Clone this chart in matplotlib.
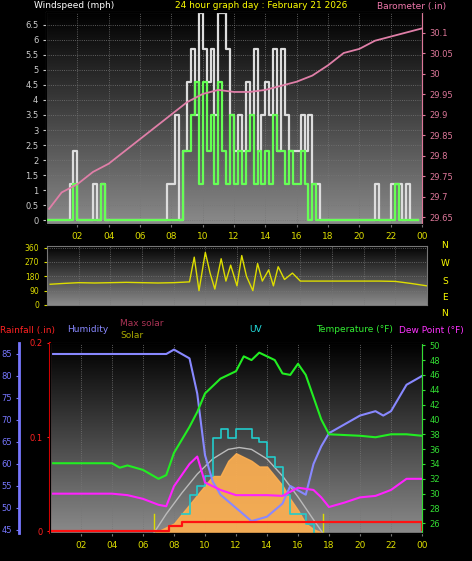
import numpy as np
import matplotlib.pyplot as plt

W, H = 472, 561

# ---------------- data ----------------
q_hours = np.arange(96) / 4.0
gust = [0, 0, 0, 0, 0, 0, 1.2, 2.3, 0, 0, 0, 0, 1.2, 0, 1.2, 0,
        0, 0, 0, 0, 0, 0, 0, 0, 0, 0, 0, 0, 0, 0, 0, 1.2,
        1.2, 3.5, 0, 2.3, 4.6, 5.7, 3.5, 6.9, 5.7, 4.6, 5.7, 3.5, 6.9, 6.9, 5.7, 3.5,
        2.3, 3.5, 2.3, 4.6, 3.5, 5.7, 2.3, 3.5, 4.6, 3.5, 5.7, 2.3, 5.7, 3.5, 2.3, 2.3,
        2.3, 3.5, 2.3, 3.5, 1.2, 1.2, 0, 0, 0, 0, 0, 0, 0, 0, 0, 0,
        0, 0, 0, 0, 1.2, 0, 0, 0, 1.2, 1.2, 1.2, 0, 1.2, 0, 0, 0]
wind = [0, 0, 0, 0, 0, 0, 0, 1.2, 0, 0, 0, 0, 0, 0, 1.2, 0,
        0, 0, 0, 0, 0, 0, 0, 0, 0, 0, 0, 0, 0, 0, 0, 0,
        0, 0, 0, 2.3, 2.3, 3.5, 4.6, 1.2, 4.6, 2.3, 3.5, 1.2, 4.6, 2.3, 1.2, 3.5,
        1.2, 2.3, 1.2, 2.3, 3.5, 1.2, 2.3, 1.2, 2.3, 1.2, 3.5, 2.3, 2.3, 1.2, 2.3, 1.2,
        1.2, 2.3, 1.2, 0, 1.2, 0, 0, 0, 0, 0, 0, 0, 0, 0, 0, 0,
        0, 0, 0, 0, 0, 0, 0, 0, 0, 1.2, 0, 0, 0, 0, 0, 0]

baro_h = [0.2, 1, 2, 3, 4, 5, 6, 7, 8, 9, 10, 11, 12, 13, 14, 15, 16, 17, 18, 19, 20, 21, 22, 23, 24]
baro = [29.67, 29.71, 29.73, 29.76, 29.78, 29.81, 29.84, 29.87, 29.90, 29.93, 29.95, 29.96,
        29.955, 29.955, 29.96, 29.97, 29.98, 29.995, 30.02, 30.05, 30.06, 30.08, 30.09, 30.10, 30.11]

dir_h = [0.2, 1, 2, 3, 4, 5, 6, 7, 8, 9, 9.3, 9.6, 10, 10.3, 10.6, 11, 11.3, 11.6, 12, 12.3,
         12.6, 13, 13.3, 13.6, 14, 14.3, 14.6, 15, 15.5, 16, 17, 18, 19, 20, 21, 22, 23, 24]
wdir = [130, 135, 140, 138, 140, 142, 140, 138, 140, 145, 300, 90, 330, 200, 100, 290, 150, 250,
        120, 310, 180, 90, 260, 150, 220, 120, 240, 160, 200, 150, 150, 150, 150, 150, 150, 148, 135, 120]

hum_h = [0.2, 7.5, 8, 9, 9.5, 10, 10.5, 11, 12, 13, 14, 15, 15.5, 16, 16.5, 17, 17.5, 18, 19, 20, 21, 21.5, 22, 23, 24]
hum = [85, 85, 86, 84, 76, 62, 56, 53, 50, 47, 48, 51, 55, 54, 53, 60, 64, 67, 69, 71, 72, 71, 72, 78, 80]

temp_h = [0.2, 4, 4.5, 5, 6, 7, 7.5, 8, 9, 9.5, 10, 11, 12, 12.5, 13, 13.5, 14, 14.5, 15, 15.5,
          16, 16.5, 17, 17.5, 18, 19, 20, 21, 22, 23, 24]
temp = [34.1, 34.1, 33.5, 33.8, 33.2, 32, 32.5, 35.5, 39, 41, 43.5, 45.5, 46.5, 48.5, 48, 49, 48.5,
        48, 46.2, 46, 47.5, 46, 43, 40, 38, 37.9, 37.8, 37.6, 38, 38, 37.8]
dew_h = [0.2, 4, 5, 6, 7, 7.5, 8, 9, 9.5, 10, 11, 12, 13, 14, 15, 16, 17, 17.5, 18, 19, 20, 21, 22, 23, 24]
dew = [30, 30, 29.8, 29.3, 28.5, 28.3, 31, 34, 35, 31.5, 30.5, 29.8, 29.8, 29.8, 29.7, 30.8, 30.5,
       29.5, 28.2, 28.8, 29.5, 29.7, 30.5, 32, 32]

sol_h = [6.7, 7, 8, 8.5, 9, 9.5, 10, 10.5, 11, 11.5, 12, 12.5, 13, 13.5, 14, 14.5, 15, 15.5, 16, 16.5, 17, 17.6]
solar = [0, 0.01, 0.05, 0.1, 0.15, 0.2, 0.25, 0.3, 0.3, 0.38, 0.42, 0.4, 0.38, 0.35, 0.35, 0.3,
         0.25, 0.18, 0.12, 0.05, 0.02, 0]
maxsol_h = [6.7, 7.5, 8.5, 9.5, 10.5, 11.5, 12.2, 13, 14, 15, 16, 17, 17.6]
maxsol = [0, 0.1, 0.21, 0.31, 0.39, 0.44, 0.45, 0.44, 0.39, 0.30, 0.19, 0.07, 0]
uv_h = [8.5, 9, 9.5, 10, 10.5, 11, 11.5, 12, 12.5, 13, 13.5, 14, 14.5, 15, 15.5, 16, 16.5, 17]
uv = [0.1, 0.2, 0.25, 0.3, 0.5, 0.55, 0.5, 0.55, 0.55, 0.5, 0.48, 0.4, 0.35, 0.2, 0.1, 0.1, 0.05, 0]
rain_h = [0, 7.7, 8.5, 24]
rain = [0, 0.005, 0.01, 0.01]

xticks = list(range(2, 25, 2))
xlabels = ['%02d' % (h % 24) for h in xticks]
FS = 6.5


def rect(x0, y0, x1, y1):
    return [x0 / W, 1 - y1 / H, (x1 - x0) / W, (y1 - y0) / H]


def gradient(ax):
    g = np.linspace(0, 1, 256).reshape(-1, 1)
    ax.imshow(g, extent=[0, 1, 0, 1], transform=ax.transAxes, aspect='auto',
              cmap=plt.matplotlib.colors.LinearSegmentedColormap.from_list('g', ['#000000', '#8a8a8a']),
              origin='upper', zorder=0)


def style(ax):
    ax.set_facecolor('black')
    for s in ax.spines.values():
        s.set_color('#777777')
    ax.grid(True, color='#777777', ls=':', lw=0.6)
    ax.set_xlim(0, 24)
    ax.set_xticks(xticks)
    ax.set_xticklabels(xlabels, fontsize=6.5)
    ax.tick_params(axis='x', colors='#777777', labelcolor='#dddd00', length=2)


fig = plt.figure(figsize=(W / 100, H / 100), dpi=100, facecolor='black')

# ---------------- top: wind + barometer ----------------
ax1 = fig.add_axes(rect(46, 12, 422, 224))
style(ax1)
gradient(ax1)
ax1.set_ylim(-0.13, 6.93)
ax1.set_yticks(np.arange(0, 7, 0.5))
ax1.set_yticklabels(['%g' % v for v in np.arange(0, 7, 0.5)], fontsize=6)
ax1.tick_params(axis='y', colors='#cccccc', length=2)
ax1.step(q_hours, gust, where='post', color='#dddddd', lw=1.6, zorder=2)
ax1.step(q_hours, wind, where='post', color='#66ff55', lw=1.6, zorder=3)
axb = ax1.twinx()
axb.set_ylim(29.633, 30.15)
axb.set_yticks([29.65, 29.7, 29.75, 29.8, 29.85, 29.9, 29.95, 30, 30.05, 30.1])
axb.set_yticklabels(['29.65', '29.7', '29.75', '29.8', '29.85', '29.9', '29.95', '30', '30.05', '30.1'],
                    fontsize=6)
axb.tick_params(axis='y', colors='#dd7799', length=2)
axb.spines['right'].set_color('#dd7799')
axb.plot(baro_h, baro, color='#e07fa8', lw=1.3, zorder=4)
fig.text(34 / W, 1 - 6 / H, 'Windspeed (mph)', color='white', fontsize=FS, va='center')
fig.text(175 / W, 1 - 6 / H, '24 hour graph day : February 21 2026', color='#ffff00', fontsize=FS, va='center')
fig.text(377 / W, 1 - 6 / H, 'Barometer (.in)', color='#ee77aa', fontsize=FS, va='center')

# ---------------- middle: wind direction ----------------
ax2 = fig.add_axes(rect(47, 246, 427, 305))
style(ax2)
gradient(ax2)
ax2.set_ylim(0, 370)
ax2.set_yticks([0, 90, 180, 270, 360])
ax2.set_yticklabels(['0', '90', '180', '270', '360'], fontsize=5.5)
ax2.tick_params(axis='y', colors='#dddd00', length=2)
ax2.set_xticklabels([])
ax2.tick_params(axis='x', length=0)
ax2.plot(dir_h, wdir, color='#dddd00', lw=1.0)
for lab, y in zip(['N', 'W', 'S', 'E', 'N'], [246, 263, 281, 298, 313]):
    fig.text(445 / W, 1 - y / H, lab, color='#ffff00', fontsize=FS, va='center', ha='center')

# ---------------- bottom: temperature, humidity, solar, rain ----------------
ax3 = fig.add_axes(rect(50, 343, 422, 533))
style(ax3)
gradient(ax3)
ax3.set_ylim(0, 1)
ax3.set_yticks([])
ax3.fill_between(sol_h, 0, solar, color='#ffb050', alpha=0.9, zorder=2)
ax3.plot(maxsol_h, maxsol, color='#bbbbbb', lw=1.0, zorder=3)
ax3.step(uv_h, uv, where='post', color='#22cccc', lw=1.2, zorder=3)
ax3.axvline(6.7, ymax=0.1, color='#dddd00', lw=1)
ax3.axvline(17.6, ymax=0.1, color='#dddd00', lw=1)

axh = ax3.twinx()
axh.set_ylim(44.3, 87.5)
axh.yaxis.set_ticks_position('left')
axh.spines['left'].set_position(('outward', 22))
axh.spines['left'].set_color('#7777ff')
axh.spines['left'].set_linewidth(2)
axh.spines['right'].set_visible(False)
axh.set_yticks(range(45, 86, 5))
axh.set_yticklabels([str(v) for v in range(45, 86, 5)], fontsize=6)
axh.tick_params(axis='y', colors='#7777ff', length=2)
axh.plot(hum_h, hum, color='#8888ff', lw=1.5, zorder=4)

axr = ax3.twinx()
axr.set_ylim(-0.002, 0.2)
axr.yaxis.set_ticks_position('left')
axr.spines['left'].set_color('#dd0000')
axr.spines['left'].set_linewidth(1.5)
axr.spines['right'].set_visible(False)
axr.set_yticks([0, 0.1, 0.2])
axr.set_yticklabels(['0', '0.1', '0.2'], fontsize=6)
axr.tick_params(axis='y', colors='#ff2222', length=2)
axr.step(rain_h, rain, where='post', color='#ff1111', lw=1.6, zorder=5)
axr.vlines(24, 0, 0.01, color='#ff1111', lw=1.6)

axt = ax3.twinx()
axt.set_ylim(24.7, 50.3)
axt.spines['right'].set_color('#33dd33')
axt.set_yticks(range(26, 51, 2))
axt.set_yticklabels([str(v) for v in range(26, 51, 2)], fontsize=6)
axt.tick_params(axis='y', colors='#33dd33', length=2)
axt.plot(temp_h, temp, color='#22ee22', lw=1.5, zorder=4)
axt.plot(dew_h, dew, color='#ff22ff', lw=1.5, zorder=4)

fig.text(0, 1 - 330 / H, 'Rainfall (.in)', color='#ff2222', fontsize=FS, va='center')
fig.text(67 / W, 1 - 330 / H, 'Humidity', color='#8888ff', fontsize=FS, va='center')
fig.text(120 / W, 1 - 323 / H, 'Max solar', color='#aa3355', fontsize=FS, va='center')
fig.text(120 / W, 1 - 335 / H, 'Solar', color='#aaaa00', fontsize=FS, va='center')
fig.text(249 / W, 1 - 330 / H, 'UV', color='#22dddd', fontsize=FS, va='center')
fig.text(316 / W, 1 - 330 / H, 'Temperature (°F)', color='#33ee33', fontsize=FS, va='center')
fig.text(399 / W, 1 - 330 / H, 'Dew Point (°F)', color='#ff33ff', fontsize=FS, va='center')

fig.savefig('out.png', dpi=100, facecolor='black')
